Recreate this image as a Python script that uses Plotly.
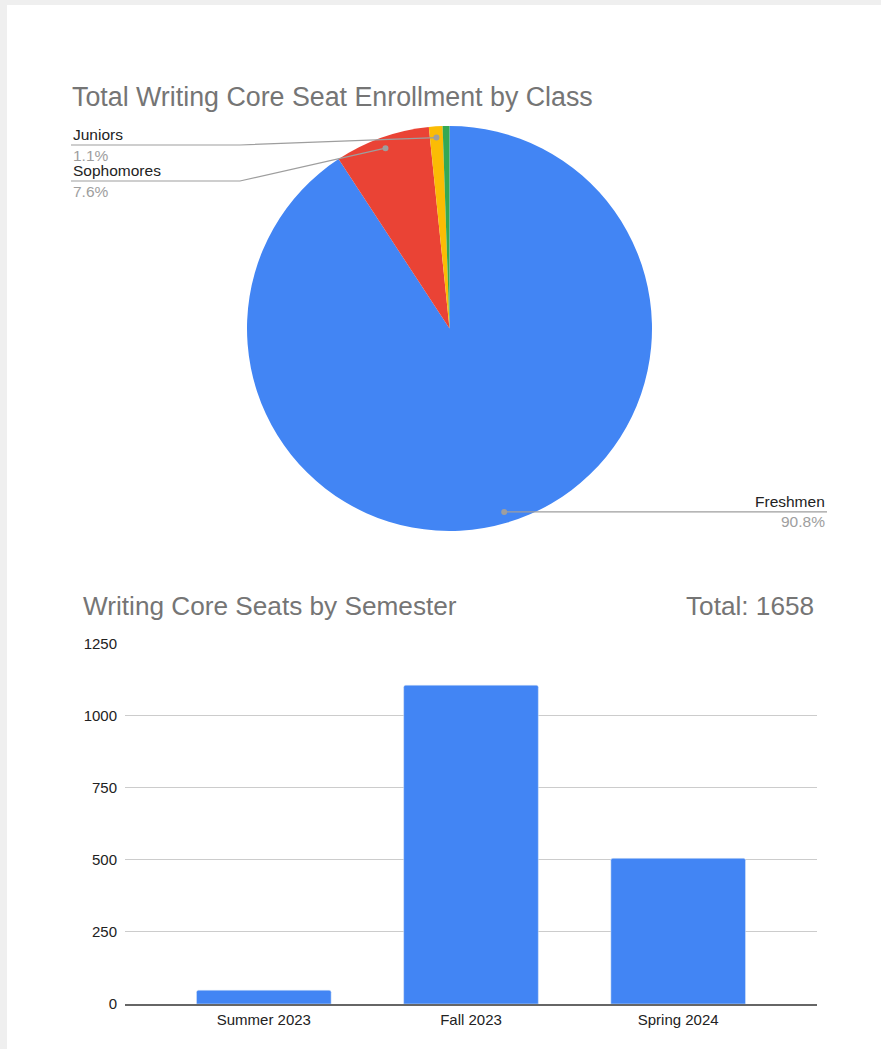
import math
import plotly.graph_objects as go

# ---------------- data ----------------
classes = ["Freshmen", "Sophomores", "Juniors", "Seniors"]
class_seats = [1505, 126, 18, 9]
class_colors = ["#4285f4", "#ea4335", "#fbbc04", "#34a853"]

semesters = ["Summer 2023", "Fall 2023", "Spring 2024"]
semester_seats = [48, 1105, 505]
y_ticks = [0, 250, 500, 750, 1000, 1250]

pie_title = "Total Writing Core Seat Enrollment by Class"
bar_title = "Writing Core Seats by Semester"

# ---------------- layout helpers ----------------
W, H = 881, 1049
FONT = "Liberation Sans, Arial, Helvetica, sans-serif"


def px(x):
    return x / W


def py(y):
    return 1 - y / H


# pie geometry (pixels)
CX, CY, R = 449.5, 328.5, 202.5
DOT_R = 0.945 * R

fig = go.Figure()

fig.add_trace(go.Pie(
    labels=classes,
    values=class_seats,
    sort=False,
    direction="clockwise",
    rotation=0,
    marker=dict(colors=class_colors, line=dict(width=0)),
    textinfo="none",
    hoverinfo="label+value+percent",
    showlegend=False,
    automargin=False,
    domain=dict(x=[px(CX - R), px(CX + R)], y=[py(CY + R), py(CY - R)]),
))

fig.add_trace(go.Bar(
    x=semesters,
    y=semester_seats,
    marker=dict(color="#4285f4", cornerradius=2),
    width=0.65,
    xaxis="x",
    yaxis="y",
    showlegend=False,
))

shapes = [
    dict(type="rect", xref="paper", yref="paper", x0=px(7), x1=1, y0=0, y1=py(5),
         fillcolor="white", line=dict(width=0), layer="below"),
]
annotations = []

# leader labels computed from slice mid-angles
total = sum(class_seats)
label_spec = {
    "Freshmen": dict(side="right", edge=827, knee=None, line_y=None),
    "Sophomores": dict(side="left", edge=71, knee=240, line_y=181),
    "Juniors": dict(side="left", edge=71, knee=240, line_y=145),
}
cum = 0.0
LINE_C = "#9e9e9e"
for name, v in zip(classes, class_seats):
    start = cum
    cum += v
    if name not in label_spec:
        continue
    mid = (start + cum) / 2 / total * 2 * math.pi
    dx = CX + DOT_R * math.sin(mid)
    dy = CY - DOT_R * math.cos(mid)
    spec = label_spec[name]
    ly = spec["line_y"] if spec["line_y"] is not None else dy
    if spec["side"] == "left":
        path = f"M {px(spec['edge'])},{py(ly)} L {px(spec['knee'])},{py(ly)} L {px(dx)},{py(dy)}"
        xanchor = "left"
    else:
        path = f"M {px(dx)},{py(dy)} L {px(spec['edge'])},{py(ly)}"
        xanchor = "right"
    shapes.append(dict(type="path", xref="paper", yref="paper", path=path,
                       line=dict(color=LINE_C, width=1.2)))
    shapes.append(dict(type="circle", xref="paper", yref="paper",
                       xsizemode="pixel", ysizemode="pixel",
                       xanchor=px(dx), yanchor=py(dy), x0=-3, x1=3, y0=-3, y1=3,
                       fillcolor=LINE_C, line=dict(width=0)))
    annotations.append(dict(xref="paper", yref="paper", x=px(spec["edge"]), y=py(ly - 10.5),
                            xanchor=xanchor, yanchor="middle", showarrow=False,
                            text=name, font=dict(family=FONT, size=15.5, color="#222222")))
    annotations.append(dict(xref="paper", yref="paper", x=px(spec["edge"]), y=py(ly + 10),
                            xanchor=xanchor, yanchor="middle", showarrow=False,
                            text=f"{v / total * 100:.1f}%",
                            font=dict(family=FONT, size=15.5, color="#9e9e9e")))

# titles
annotations.append(dict(xref="paper", yref="paper", x=px(70), y=py(97), xanchor="left",
                        yanchor="middle", showarrow=False, text=pie_title,
                        font=dict(family=FONT, size=26.8, color="#757575")))
annotations.append(dict(xref="paper", yref="paper", x=px(81), y=py(606), xanchor="left",
                        yanchor="middle", showarrow=False, text=bar_title,
                        font=dict(family=FONT, size=26.2, color="#757575")))
annotations.append(dict(xref="paper", yref="paper", x=px(816), y=py(606), xanchor="right",
                        yanchor="middle", showarrow=False,
                        text=f"Total: {sum(semester_seats)}",
                        font=dict(family=FONT, size=26.2, color="#757575")))

fig.update_layout(
    width=W, height=H,
    autosize=False,
    margin=dict(l=0, r=0, t=0, b=0, pad=0, autoexpand=False),
    paper_bgcolor="#efefef",
    plot_bgcolor="white",
    font=dict(family=FONT, size=15, color="#222222"),
    shapes=shapes,
    annotations=annotations,
    xaxis=dict(
        domain=[px(125), px(817)],
        type="category",
        range=[-0.67, 2.67],
        showline=True, linecolor="#666666", linewidth=2,
        showgrid=False, zeroline=False, ticks="",
        tickfont=dict(family=FONT, size=15, color="#222222"),
        ticklabelstandoff=1,
        automargin=False,
        fixedrange=True,
    ),
    yaxis=dict(
        domain=[py(1004), py(643.3)],
        range=[0, 1250],
        tickvals=y_ticks,
        showgrid=True, gridcolor="#cccccc", gridwidth=1,
        zeroline=False, showline=False, ticks="",
        tickfont=dict(family=FONT, size=15, color="#222222"),
        ticklabelstandoff=7,
        automargin=False,
        fixedrange=True,
    ),
)

fig.write_html(
    "out.html",
    config={"responsive": False, "displayModeBar": False},
    post_script=(
        "document.body.style.margin='0';document.body.style.padding='0';"
        "document.body.style.overflow='hidden';"
        "document.body.style.background='#efefef';"
    ),
)
